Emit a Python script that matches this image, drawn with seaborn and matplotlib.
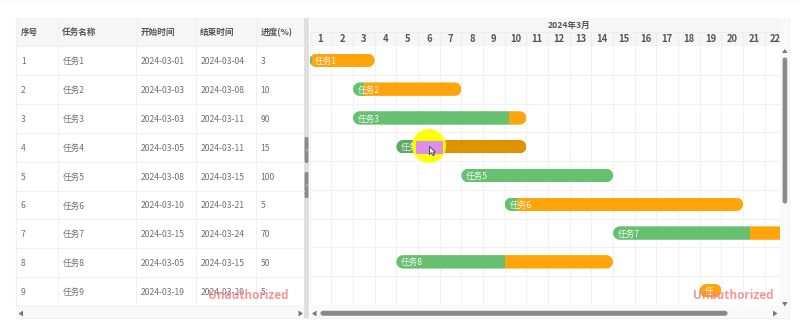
import numpy as np
import pandas as pd
import seaborn as sns
import matplotlib.pyplot as plt
from matplotlib.patches import Rectangle, Circle, FancyBboxPatch, Polygon

# table content
task_ids = [1, 2, 3, 4, 5, 6, 7, 8, 9]
task_names = ["任务1", "任务2", "任务3", "任务4", "任务5", "任务6", "任务7", "任务8", "任务9"]
start_dates = ["2024-03-01", "2024-03-03", "2024-03-03", "2024-03-05", "2024-03-08",
               "2024-03-10", "2024-03-15", "2024-03-05", "2024-03-19"]
end_dates = ["2024-03-04", "2024-03-08", "2024-03-11", "2024-03-11", "2024-03-15",
             "2024-03-21", "2024-03-24", "2024-03-15", "2024-03-20"]
progress = [3, 10, 90, 15, 100, 5, 70, 50, 5]
columns = ["序号", "任务名称", "开始时间", "结束时间", "进度(%)"]
days = list(range(1, 23))

GREEN = "#66c06f"
ORANGE = "#fea50b"
GREEN_HOVER = "#5aaa62"
ORANGE_HOVER = "#dd9300"
GRID = "#f1f1f1"
HEAD = "#f6f6f6"
TEXT = "#707070"
HEAD_TEXT = "#555555"
BAR = "#8a8a8a"

W, H = 800, 331
GL, GR, GT, GB = 309.7, 780, 46, 305
ROW = 28.9
DAY = 21.67
BAR_PX = 13.5

sns.set_theme(style="white")
plt.rcParams["font.family"] = ["Noto Sans CJK SC", "DejaVu Sans"]

df = pd.DataFrame({"name": task_names, "start": pd.to_datetime(start_dates),
                   "end": pd.to_datetime(end_dates), "progress": progress})
df["left"] = df["start"].dt.day - 1
df["length"] = (df["end"] - df["start"]).dt.days
df["done"] = df["length"] * df["progress"] / 100
df["rest"] = df["length"] - df["done"]

fig = plt.figure(figsize=(W / 100, H / 100), dpi=100, facecolor="white")


def pixel_axes(z):
    a = fig.add_axes([0, 0, 1, 1], zorder=z)
    a.set_xlim(0, W)
    a.set_ylim(H, 0)
    a.axis("off")
    return a


# page chrome and the table on the left
ui = pixel_axes(0)
ui.add_patch(Rectangle((0, 0), W, 2.5, color="#fafafa", lw=0))
ui.add_patch(Rectangle((16, 17.5), 773, 300.5, fc="white", ec="#f1f1f1", lw=0.8))
ui.add_patch(Rectangle((16, 17.5), 288, 28.5, color=HEAD, lw=0))
ui.add_patch(Rectangle((GL, 17.5), 470.3, 28.5, color=HEAD, lw=0))
ui.add_patch(Rectangle((GR, 17.5), 9, 300.5, color="#f9f9f9", lw=0))
ui.add_patch(Rectangle((16, 305), 288, 13, color="#f9f9f9", lw=0))
ui.add_patch(Rectangle((GL, 305), 479.3, 13, color="#f9f9f9", lw=0))

col_edges = [16, 57.5, 135.5, 195.5, 255.5]
for x, label in zip(col_edges, columns):
    ui.plot([x, x], [17.5, GB], color=GRID, lw=0.8)
    ui.text(x + 4.8, 32.8, label, fontsize=6.2, fontweight="bold", color=HEAD_TEXT, va="center")
for i in range(10):
    ui.plot([16, 303.5], [GT + i * ROW] * 2, color=GRID, lw=0.8)
for i in range(9):
    y = GT + (i + 0.5) * ROW
    row = [task_ids[i], task_names[i], start_dates[i], end_dates[i], progress[i]]
    for x, value in zip(col_edges, row):
        ui.text(x + 4.8, y + 1, str(value), fontsize=6.2, color=TEXT, va="center")

# splitter between table and gantt
ui.add_patch(Rectangle((303.7, 17.5), 5.6, 300.5, color="#dfdfdf", lw=0))
for y0, mark in [(137, "‹"), (172, "›")]:
    ui.add_patch(FancyBboxPatch((304.6, y0), 3.8, 26, boxstyle="round,pad=0,rounding_size=1.5",
                                fc=BAR, ec="none"))
    ui.text(306.5, y0 + 12.5, mark, fontsize=5, color="white", ha="center", va="center")

# header of the gantt
ui.plot([GL, GR], [31.5, 31.5], color="#ededed", lw=0.8)
ui.text(569, 25, "2024年3月", fontsize=6.2, fontweight="bold", color=HEAD_TEXT,
        ha="center", va="center")
for d in days:
    x = GL + (d - 1) * DAY
    ui.plot([x, x], [31.5, GT], color="#ededed", lw=0.8)

# scrollbars
ui.add_patch(FancyBboxPatch((320.5, 310.8), 407, 5, boxstyle="round,pad=0,rounding_size=2.5",
                            fc=BAR, ec="none"))
ui.add_patch(FancyBboxPatch((782.6, 57.5), 4.6, 146, boxstyle="round,pad=0,rounding_size=2.3",
                            fc=BAR, ec="none"))
for pts in ([(18.5, 313.5), (23, 310.5), (23, 316.5)],
            [(303, 313.5), (298.5, 310.5), (298.5, 316.5)],
            [(312, 313.5), (316.5, 310.5), (316.5, 316.5)],
            [(777.5, 313.5), (773, 310.5), (773, 316.5)],
            [(784.8, 49), (782, 53), (787.6, 53)],
            [(784.8, 306.5), (782, 302), (787.6, 302)]):
    ui.add_patch(Polygon(pts, fc="#777777", ec="none"))

# gantt bars
ax = fig.add_axes([GL / W, 1 - GB / H, (GR - GL) / W, (GB - GT) / H], zorder=1)
bar_h = BAR_PX / ROW
sns.barplot(x=df["rest"].to_numpy(), y=df["name"], left=(df["left"] + df["done"]).to_numpy(),
            orient="h", color=ORANGE, saturation=1, width=bar_h, linewidth=0, ax=ax, zorder=3)
sns.barplot(x=df["done"].to_numpy(), y=df["name"], left=df["left"].to_numpy(),
            orient="h", color=GREEN, saturation=1, width=bar_h, linewidth=0, ax=ax, zorder=3)
ax.set_xlim(0, (GR - GL) / DAY)
ax.set_ylim((GB - GT) / ROW - 0.5, -0.5)
ax.set_xlabel("")
ax.set_ylabel("")

ax.xaxis.tick_top()
ax.set_xticks([d - 0.5 for d in days], labels=[str(d) for d in days], fontsize=6.8,
              fontweight="bold", color=HEAD_TEXT)
ax.set_xticks(range(0, 22), minor=True)
ax.set_yticks([i + 0.5 for i in range(9)], minor=True)
ax.tick_params(axis="x", which="major", length=0, pad=1.1)
ax.tick_params(axis="both", which="minor", length=0)
ax.tick_params(axis="y", which="major", left=False, labelleft=False)
ax.grid(True, which="minor", color=GRID, lw=0.8)
ax.set_axisbelow(True)
sns.despine(ax=ax, left=True, bottom=True, top=True, right=True)

ax.containers[0][3].set_facecolor(ORANGE_HOVER)
ax.containers[1][3].set_facecolor(GREEN_HOVER)

# pill shapes clip the square bars
angles = np.linspace(-np.pi / 2, np.pi / 2, 24)
rx = (BAR_PX / 2) / DAY
for i, row in df.iterrows():
    right = np.column_stack([row["left"] + row["length"] - rx + rx * np.cos(angles),
                             i + bar_h / 2 * np.sin(angles)])
    left = np.column_stack([row["left"] + rx - rx * np.cos(angles),
                            i - bar_h / 2 * np.sin(angles)])
    pill = Polygon(np.vstack([right, left]), closed=True, transform=ax.transData,
                   fc="none", ec="none")
    ax.add_patch(pill)
    ax.containers[0][i].set_clip_path(pill)
    ax.containers[1][i].set_clip_path(pill)
    t = ax.text(row["left"] + 4.8 / DAY, i + 0.035, row["name"], fontsize=6.2, color="#f7f7f7",
                va="center", zorder=4, clip_on=True)
    # long names are cut off before the end of the bar
    box = Rectangle((row["left"], i - bar_h / 2), row["length"] - 8 / DAY, bar_h,
                    transform=ax.transData, fc="none", ec="none")
    ax.add_patch(box)
    t.set_clip_path(box)

# mouse highlight and watermarks on top
top = pixel_axes(2)
top.add_patch(Circle((429, 146), 17, color="#ffff00", alpha=0.96, lw=0))
top.add_patch(Rectangle((416, 140.5), 27, 13, color="#dd8ee8", lw=0))
top.add_patch(Polygon([(429.5, 146.5), (429.5, 154.5), (431.5, 152.8), (433, 155.5),
                       (434.5, 155), (433.2, 152.3), (435.5, 152)],
                      fc="#eeeeee", ec="#444a66", lw=0.7))
for x in (248, 733.5):
    top.text(x, 295.5, "Unauthorized", fontsize=8.5, fontweight="bold", color="#f08080",
             alpha=0.8, ha="center", va="center", family=["Open Sans", "DejaVu Sans"])

fig.savefig("out.png", dpi=100)
